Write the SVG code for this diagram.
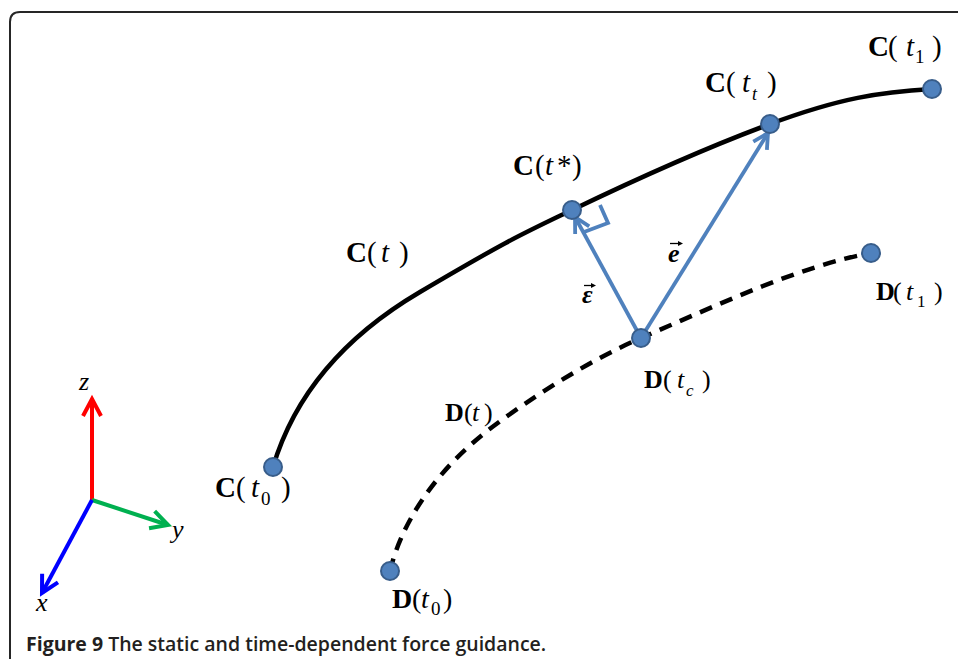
<svg xmlns="http://www.w3.org/2000/svg" width="958" height="659" viewBox="0 0 958 659">
<style>
  .frame{fill:none;stroke:#262626;stroke-width:2}
  .curveC{fill:none;stroke:#000;stroke-width:4.5;stroke-linecap:round}
  .curveD{fill:none;stroke:#000;stroke-width:4.5;stroke-dasharray:13 9}
  .vec{fill:none;stroke:#4F81BD;stroke-width:3.8}
  .dot{fill:#4F81BD;stroke:#385D8A;stroke-width:2}
  .lbl{font-family:"Liberation Serif","Times New Roman",serif;fill:#000}
  .b{font-weight:bold}
  .i{font-style:italic}
  .bi{font-weight:bold;font-style:italic}
  .acc{fill:none;stroke:#000;stroke-width:1.3}
  .acch{fill:#000;stroke:none}
  .ax{font-family:"Liberation Serif","Times New Roman",serif;font-style:italic;font-size:26px;fill:#000}
  .cap{font-family:"Open Sans","Noto Sans",sans-serif;font-size:19.5px;fill:#231f20}
</style>
<defs>
  <marker id="ahB" markerUnits="userSpaceOnUse" markerWidth="30" markerHeight="30" refX="0" refY="0" viewBox="-20 -15 30 30" orient="auto">
    <path d="M-15,-8 L0,0 L-15,8" fill="none" stroke="#4F81BD" stroke-width="3.8"/>
  </marker>
  <marker id="ahR" markerUnits="userSpaceOnUse" markerWidth="30" markerHeight="30" refX="0" refY="0" viewBox="-20 -15 30 30" orient="auto">
    <path d="M-17,-9 L0,0 L-17,9" fill="none" stroke="#FF0000" stroke-width="4"/>
  </marker>
  <marker id="ahG" markerUnits="userSpaceOnUse" markerWidth="30" markerHeight="30" refX="0" refY="0" viewBox="-20 -15 30 30" orient="auto">
    <path d="M-17,-9 L0,0 L-17,9" fill="none" stroke="#00B050" stroke-width="4"/>
  </marker>
  <marker id="ahX" markerUnits="userSpaceOnUse" markerWidth="30" markerHeight="30" refX="0" refY="0" viewBox="-20 -15 30 30" orient="auto">
    <path d="M-17,-9 L0,0 L-17,9" fill="none" stroke="#0000FF" stroke-width="4"/>
  </marker>
</defs>
<rect width="958" height="659" fill="#fff"/>
<path class="frame" d="M10,670 V22 Q10,12 20,12 H970"/>

<g id="connectors">
  <path id="curve-C" class="curveC" d="M273,467 C290,410 330,345 420,292 S520,235 572,210 S700,150 770,124 S880,92 932,89"/>
  <path id="curve-D" class="curveD" d="M390,571 C401,525 434,470 495,425 C534,396 590,360 641,338 C720,304 800,266 871,253"/>
  <line id="vec-eps" class="vec" x1="641" y1="338" x2="575" y2="217" marker-end="url(#ahB)"/>
  <line id="vec-e" class="vec" x1="641" y1="338" x2="768" y2="133" marker-end="url(#ahB)"/>
  <polyline id="right-angle" class="vec" points="584,232 608,223 600,205"/>
</g>

<g id="axes">
  <line x1="92" y1="500" x2="92" y2="399" stroke="#FF0000" stroke-width="4" marker-end="url(#ahR)"/>
  <line x1="92" y1="500" x2="168" y2="525" stroke="#00B050" stroke-width="4" marker-end="url(#ahG)"/>
  <line x1="92" y1="500" x2="42" y2="593" stroke="#0000FF" stroke-width="4" marker-end="url(#ahX)"/>
  <text class="ax" x="79" y="390">z</text>
  <text class="ax" x="172" y="538">y</text>
  <text class="ax" x="36" y="611">x</text>
</g>

<g id="node-C-t0">
  <circle class="dot" cx="273" cy="467" r="9"/>
  <text class="lbl" font-size="29"><tspan class="b" x="215" y="497">C</tspan><tspan x="236" y="497">(</tspan><tspan class="i" x="251" y="497">t</tspan><tspan x="261" y="505" font-size="19">0</tspan><tspan x="281" y="497">)</tspan></text>
</g>
<g id="node-C-t">
  <text class="lbl" font-size="29"><tspan class="b" x="346" y="262">C</tspan><tspan x="367" y="262">(</tspan><tspan class="i" x="381" y="262">t</tspan><tspan x="399" y="262">)</tspan></text>
</g>
<g id="node-C-tstar">
  <circle class="dot" cx="572" cy="210" r="9"/>
  <text class="lbl" font-size="29"><tspan class="b" x="513" y="175">C</tspan><tspan x="535" y="175">(</tspan><tspan class="i" x="545" y="175">t</tspan><tspan x="557" y="175">*</tspan><tspan x="572" y="175">)</tspan></text>
</g>
<g id="node-C-tt">
  <circle class="dot" cx="770" cy="124" r="9"/>
  <text class="lbl" font-size="29"><tspan class="b" x="705" y="92">C</tspan><tspan x="726" y="92">(</tspan><tspan class="i" x="742" y="92">t</tspan><tspan class="i" x="752" y="100" font-size="18">t</tspan><tspan x="767" y="92">)</tspan></text>
</g>
<g id="node-C-t1">
  <circle class="dot" cx="932" cy="89" r="9"/>
  <text class="lbl" font-size="29"><tspan class="b" x="868" y="56">C</tspan><tspan x="888" y="56">(</tspan><tspan class="i" x="906" y="56">t</tspan><tspan x="915" y="63" font-size="19">1</tspan><tspan x="932" y="56">)</tspan></text>
</g>
<g id="node-D-t0">
  <circle class="dot" cx="390" cy="571" r="9"/>
  <text class="lbl" font-size="28"><tspan class="b" x="392" y="608">D</tspan><tspan x="412" y="608">(</tspan><tspan class="i" x="421" y="608">t</tspan><tspan x="431" y="615" font-size="19">0</tspan><tspan x="443" y="608">)</tspan></text>
</g>
<g id="node-D-t">
  <text class="lbl" font-size="26"><tspan class="b" x="445" y="421">D</tspan><tspan x="464" y="421">(</tspan><tspan class="i" x="472" y="421">t</tspan><tspan x="484" y="421">)</tspan></text>
</g>
<g id="node-D-tc">
  <circle class="dot" cx="641" cy="338" r="9"/>
  <text class="lbl" font-size="26"><tspan class="b" x="644" y="388">D</tspan><tspan x="663" y="388">(</tspan><tspan class="i" x="677" y="388">t</tspan><tspan class="i" x="686" y="396" font-size="17">c</tspan><tspan x="702" y="388">)</tspan></text>
</g>
<g id="node-D-t1">
  <circle class="dot" cx="871" cy="253" r="9"/>
  <text class="lbl" font-size="26"><tspan class="b" x="876" y="300">D</tspan><tspan x="893" y="300">(</tspan><tspan class="i" x="906" y="300">t</tspan><tspan x="917" y="307" font-size="17">1</tspan><tspan x="934" y="300">)</tspan></text>
</g>
<g id="label-e">
  <text class="lbl bi" font-size="26" x="668" y="262">e</text>
  <path class="acc" d="M670,243.5 H680"/>
  <path class="acch" d="M683,243.5 L678,241 L678,246 Z"/>
</g>
<g id="label-eps">
  <text class="lbl bi" font-size="26" x="582" y="303">ε</text>
  <path class="acc" d="M584,285.5 H593"/>
  <path class="acch" d="M596,285.5 L591,283 L591,288 Z"/>
</g>

<text class="cap" x="26" y="651"><tspan font-weight="bold">Figure 9</tspan><tspan font-weight="600"> The static and time-dependent force guidance.</tspan></text>
</svg>
